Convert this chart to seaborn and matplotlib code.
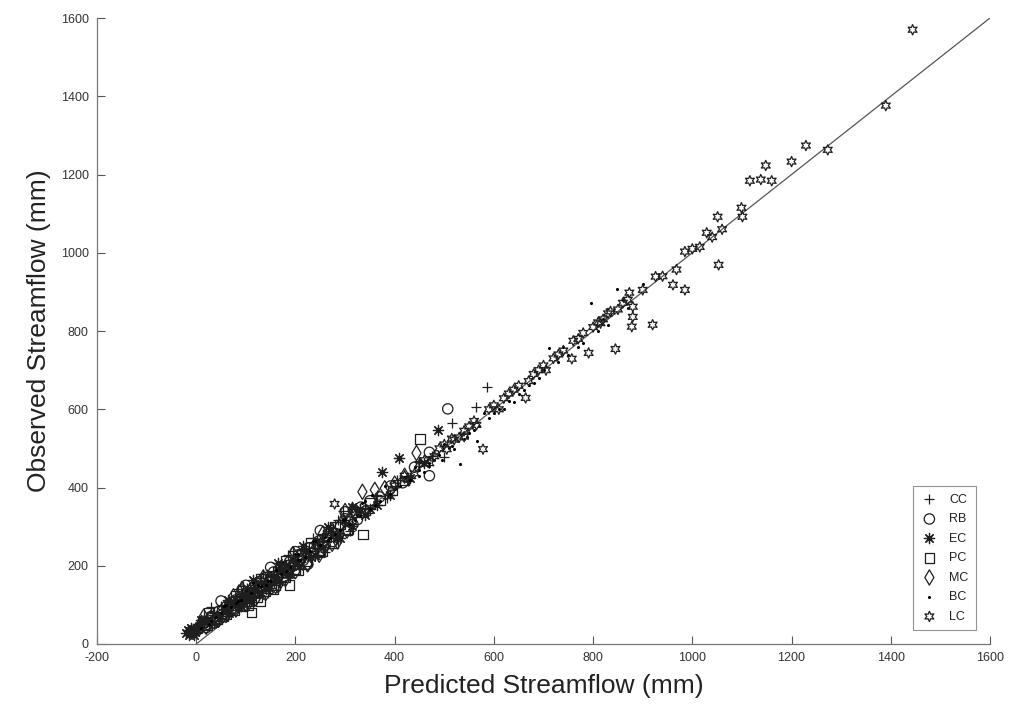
import matplotlib
matplotlib.use("Agg")
import matplotlib.pyplot as plt
import seaborn as sns
import pandas as pd

sites = ["CC", "RB", "EC", "PC", "MC", "BC", "LC"]

cc_pred = [-8, 2, 12, 20, 28, 36, 44, 50, 58, 64, 70, 78, 84, 90, 96, 102, 108, 114, 118, 124, 130, 136, 142, 148, 154, 160, 166, 172, 178, 184, 190, 196, 204, 212, 220, 228, 236, 246, 256, 266, 276, 288, 300, 314, 330, 346, 364, 384, 404, 426, 450, 476, 499, 515, 563, 587, 255, 155,
           30, 60, 85, 110, 135, 160, 185, 210, 235, 260, 285, 310, 45, 95, 145, 195, 245, 295]
cc_obs = [32, 48, 44, 66, 58, 80, 72, 96, 88, 108, 98, 120, 106, 128, 118, 142, 128, 150, 159, 146, 168, 154, 178, 162, 186, 170, 194, 180, 204, 188, 214, 200, 226, 210, 244, 226, 258, 244, 278, 262, 296, 284, 318, 306, 348, 336, 382, 372, 420, 416, 466, 480, 478, 565, 606, 657, 280, 172,
          95, 72, 140, 112, 180, 150, 228, 192, 272, 236, 318, 290, 60, 148, 130, 238, 228, 340]

rb_pred = [5, 14, 22, 30, 38, 46, 54, 62, 70, 78, 86, 92, 98, 104, 110, 116, 122, 128, 134, 140, 148, 156, 164, 172, 180, 188, 196, 206, 216, 226, 236, 248, 260, 272, 286, 300, 316, 332, 350, 370, 392, 416, 440, 470, 507, 470,
           20, 50, 75, 100, 125, 150, 175, 200, 225, 250, 275, 300, 325]
rb_obs = [40, 58, 50, 70, 62, 84, 76, 98, 88, 112, 100, 138, 116, 132, 124, 146, 136, 160, 148, 170, 160, 184, 172, 196, 188, 210, 200, 228, 214, 246, 234, 264, 252, 290, 276, 320, 306, 350, 366, 376, 404, 412, 452, 490, 601, 430,
          42, 110, 88, 150, 130, 196, 170, 236, 204, 290, 262, 338, 318]

ec_pred = [-20, -17, -15, -13, -11, -9, -7, -5, -3, 0, -12, -6, 6, 16, 26, 36, 46, 56, 66, 76, 86, 96, 106, 116, 126, 136, 146, 156, 166, 176, 186, 196, 208, 220, 232, 244, 256, 270, 284, 298, 314, 330, 350, 374, 390, 408, 430, 460, 487, 365,
           10, 35, 65, 90, 115, 140, 165, 190, 215, 240, 265, 290, 315, 340]
ec_obs = [28, 36, 24, 32, 40, 28, 34, 22, 30, 36, 30, 38, 44, 58, 52, 74, 66, 90, 80, 104, 94, 120, 110, 138, 126, 156, 142, 174, 160, 192, 178, 214, 200, 238, 222, 262, 248, 288, 272, 316, 302, 344, 345, 440, 380, 475, 425, 462, 547, 355,
          62, 54, 112, 98, 164, 140, 208, 180, 250, 228, 300, 270, 350, 330]

pc_pred = [2, 12, 22, 32, 42, 52, 60, 68, 76, 84, 92, 100, 108, 116, 124, 132, 140, 150, 160, 170, 180, 190, 200, 212, 224, 236, 248, 262, 276, 290, 306, 322, 336, 350, 372, 396, 420, 451, 180, 130, 112, 188,
           25, 55, 80, 105, 130, 155, 180, 205, 230, 255, 280, 305]
pc_obs = [40, 56, 48, 70, 62, 84, 76, 100, 86, 110, 96, 122, 108, 134, 120, 148, 134, 164, 150, 184, 170, 204, 190, 228, 210, 250, 234, 272, 258, 306, 292, 336, 279, 360, 366, 392, 418, 524, 190, 110, 80, 151,
          80, 70, 124, 100, 168, 140, 214, 188, 258, 236, 300, 290]

mc_pred = [0, 10, 20, 30, 40, 50, 60, 70, 80, 90, 100, 110, 120, 130, 140, 150, 160, 170, 180, 190, 200, 212, 224, 236, 248, 260, 274, 288, 304, 320, 335, 360, 380, 400, 420, 444, 300, 92,
           15, 45, 75, 105, 135, 165, 195, 225, 255, 285, 315]
mc_obs = [36, 52, 44, 68, 60, 82, 74, 98, 88, 112, 102, 126, 116, 142, 130, 160, 148, 178, 166, 196, 186, 214, 204, 236, 228, 264, 256, 300, 290, 334, 389, 394, 398, 410, 430, 488, 340, 140,
          70, 62, 122, 104, 170, 150, 230, 204, 282, 262, 342]

bc_pred = [10, 30, 50, 70, 90, 110, 130, 150, 170, 190, 210, 230, 250, 270, 290, 310, 330, 350, 370, 390, 410, 430, 450, 470, 490, 510, 531, 550, 570, 590, 610, 630, 650, 670, 690, 712, 730, 750, 770, 795, 810, 830, 849, 870, 900, 125, 205, 260, 335, 420, 480, 520, 560, 565, 600, 640, 680,
           40, 60, 80, 100, 140, 160, 180, 200, 220, 240, 280, 300, 320, 340, 360, 380, 400, 440, 460, 500, 540, 580, 620, 660, 700, 740, 780, 820, 860,
           25, 55, 85, 115, 145, 175, 205, 235, 265, 295, 325, 355, 450, 470, 495, 515, 545]
bc_obs = [42, 60, 78, 95, 112, 130, 148, 162, 180, 198, 214, 238, 252, 272, 292, 306, 328, 346, 366, 384, 404, 420, 446, 462, 484, 500, 460, 540, 556, 578, 600, 620, 638, 662, 680, 757, 720, 738, 760, 872, 800, 816, 908, 860, 921, 150, 230, 274, 360, 428, 470, 498, 548, 520, 590, 618, 668,
          70, 100, 104, 138, 150, 190, 186, 230, 222, 262, 280, 320, 316, 366, 356, 404, 396, 452, 440, 510, 525, 590, 600, 650, 700, 760, 770, 830, 880,
          52, 96, 110, 156, 160, 210, 214, 262, 266, 318, 330, 380, 430, 455, 470, 505, 530]

lc_pred = [100, 180, 279, 320, 400, 450, 480, 500, 520, 540, 560, 578, 600, 610, 620, 640, 650, 664, 680, 690, 700, 720, 740, 757, 760, 780, 791, 800, 810, 820, 830, 845, 850, 860, 873, 878, 880, 880, 900, 920, 926, 940, 961, 968, 985, 985, 1000, 1015, 1029, 1040, 1051, 1053, 1060, 1099, 1101, 1116, 1138, 1148, 1160, 1200, 1229, 1273, 1390, 1444,
           540, 590, 630, 670, 705, 730, 770, 815, 835, 870, 420, 440, 460, 470, 490, 505, 515, 530, 550, 565]
lc_obs = [130, 200, 358, 330, 405, 460, 480, 510, 522, 545, 570, 498, 610, 600, 628, 650, 660, 629, 690, 700, 712, 730, 750, 729, 775, 795, 744, 810, 822, 830, 845, 754, 855, 872, 898, 811, 862, 836, 905, 816, 939, 940, 918, 957, 905, 1003, 1010, 1015, 1051, 1040, 1092, 969, 1060, 1115, 1092, 1184, 1187, 1223, 1184, 1233, 1274, 1263, 1376, 1570,
          530, 600, 640, 672, 700, 740, 780, 820, 850, 880, 430, 436, 470, 462, 500, 498, 525, 528, 556, 560]

line_x = [0, 1600]
line_y = [0, 1600]

x_ticks = [-200, 0, 200, 400, 600, 800, 1000, 1200, 1400, 1600]
y_ticks = [0, 200, 400, 600, 800, 1000, 1200, 1400, 1600]

sns.set_theme(style="ticks")
plt.rcParams["font.family"] = ["Liberation Sans", "DejaVu Sans"]
plt.rcParams["axes.unicode_minus"] = False

fig = plt.figure(figsize=(10.11, 7.21), dpi=100)
ax = fig.add_axes([97 / 1011, 1 - 644 / 721, (990 - 97) / 1011, (644 - 18) / 721])

mk_color = "#1e1e1e"
groups = {
    "CC": (cc_pred, cc_obs, dict(marker="+", s=60, color=mk_color, linewidths=0.9)),
    "RB": (rb_pred, rb_obs, dict(marker="o", s=55, facecolors="none", edgecolors=mk_color, linewidths=0.9)),
    "EC": (ec_pred, ec_obs, dict(marker=(8, 2, 0), s=55, color=mk_color, linewidths=0.9)),
    "PC": (pc_pred, pc_obs, dict(marker="s", s=45, facecolors="none", edgecolors=mk_color, linewidths=0.9)),
    "MC": (mc_pred, mc_obs, dict(marker="d", s=60, facecolors="none", edgecolors=mk_color, linewidths=0.9)),
    "BC": (bc_pred, bc_obs, dict(marker="o", s=5, color="#000000", linewidths=0)),
    "LC": (lc_pred, lc_obs, dict(marker=(6, 1, 0), s=55, facecolors="none", edgecolors=mk_color, linewidths=0.9)),
}

ax.plot(line_x, line_y, color="#555555", lw=0.9, zorder=1)

for name in sites:
    xs, ys, kw = groups[name]
    df = pd.DataFrame({"pred": xs, "obs": ys})
    sns.scatterplot(data=df, x="pred", y="obs", ax=ax, label=name, zorder=3, **kw)

ax.set_xlim(-200, 1600)
ax.set_ylim(0, 1600)
ax.set_xticks(x_ticks)
ax.set_yticks(y_ticks)
ax.tick_params(direction="in", length=6, width=0.8, colors="#555555",
               labelcolor="#333333", labelsize=9, pad=6)
for side in ["top", "right"]:
    ax.spines[side].set_visible(False)
for side in ["left", "bottom"]:
    ax.spines[side].set_color("#777777")
    ax.spines[side].set_linewidth(0.9)

ax.set_xlabel("Predicted Streamflow (mm)", fontsize=19, color="#222222", labelpad=7)
ax.set_ylabel("Observed Streamflow (mm)", fontsize=19, color="#222222", labelpad=7)

leg = ax.legend(loc="lower right", fontsize=9, frameon=True, fancybox=False,
                edgecolor="#777777", borderaxespad=1.1, handletextpad=0.9,
                labelspacing=0.6, borderpad=0.6, handlelength=1.4)
leg.get_frame().set_linewidth(0.8)
for t in leg.get_texts():
    t.set_color("#222222")

fig.savefig("out.png", dpi=100)
